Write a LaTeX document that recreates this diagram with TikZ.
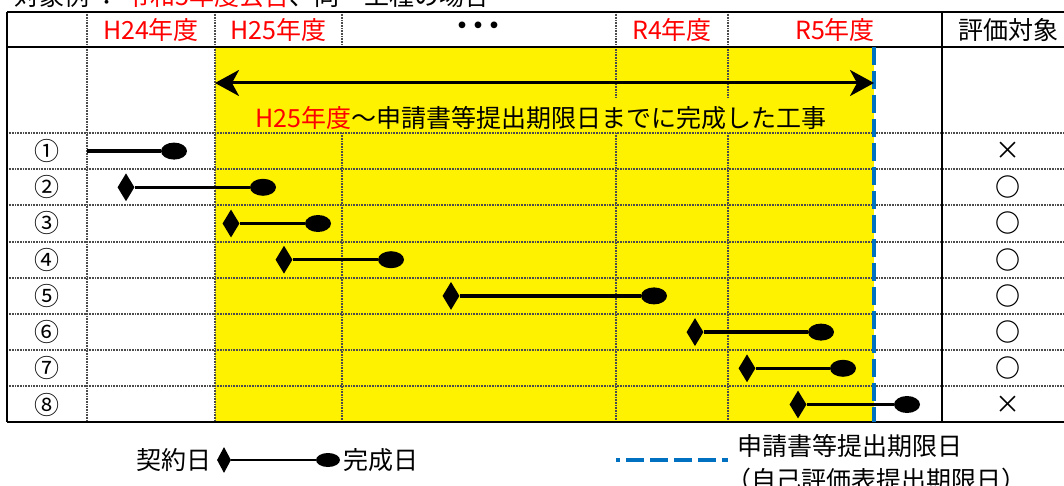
\documentclass[tikz,border=0pt]{standalone}
\usepackage{fontspec}
\setmainfont{Noto Sans CJK JP}
\usetikzlibrary{arrows.meta, shapes.geometric, positioning}
\definecolor{deadline}{RGB}{0,112,192}

\begin{document}
\begin{tikzpicture}[x=1pt, y=-1pt, font=\fontsize{25}{30}\selectfont,
    grid/.style={draw=black!70, line width=2pt, dash pattern=on 1pt off 0.6pt},
    frame/.style={draw=black, line width=2.8pt},
    limit/.style={draw=deadline, line width=3.2pt, dash pattern=on 18pt off 6pt},
    keiyaku/.style={diamond, fill=black, inner sep=0pt, minimum width=17pt, minimum height=28pt},
    kansei/.style={ellipse, fill=black, inner sep=0pt, minimum width=26pt, minimum height=17pt},
    bar/.style={line width=3.5pt},
    nendo/.style={text=red}]
  \clip (0,0) rectangle (1064,486);

  % title, cut off at the top
  \node[anchor=base west, inner sep=0pt] (title) at (14,6)
    {対象例 ： \textcolor{red}{令和5年度公告}、同一工種の場合};

  % yellow period up to the deadline
  \fill[yellow] (215,47) rectangle (874,422);

  % dotted cell borders
  \foreach \y in {133,169.2,205.4,241.6,277.8,314,350.2,386.4}
    \draw[grid] (7,\y) -- (1070,\y);
  \draw[grid] (87,12) -- (87,422);
  \draw[grid] (215,12) -- (215,422);
  \draw[grid] (342,12) -- (342,47) (342,133) -- (342,422);
  \foreach \x in {616,728}
    \draw[grid] (\x,12) -- (\x,98) (\x,133) -- (\x,422);

  % solid frame
  \draw[frame] (7,12) -- (1070,12);
  \draw[frame] (7,47) -- (1070,47);
  \draw[frame] (7,422) -- (1070,422);
  \draw[frame] (7,12) -- (7,422);
  \draw[black, line width=2.2pt] (942,12) -- (942,422);

  % deadline
  \coordinate (lim top) at (874,47);
  \coordinate (lim bot) at (874,422);
  \draw[limit] (lim top) -- (lim bot);

  % header
  \node[nendo] (h24) at (151,30) {H24年度};
  \node[nendo] (h25) at (278.5,30) {H25年度};
  \node[font=\fontsize{32}{32}\selectfont\bfseries] (dots) at (478,30) {･･･};
  \node[nendo] (r4) at (672,30) {R4年度};
  \node[nendo] (r5) at (835,30) {R5年度};
  \node (eval) at (1008,30) {評価対象};

  % period arrow
  \coordinate (from) at (215,83);
  \coordinate (upto) at (874,83);
  \draw[line width=3pt, {Stealth[length=24pt, width=26pt, inset=7pt]}-{Stealth[length=24pt, width=26pt, inset=7pt]}]
    (from) -- (upto);
  \node (period) at (541,118) {\textcolor{red}{H25年度}～申請書等提出期限日までに完成した工事};

  % rows
  \foreach \r/\lbl/\ev in {1/①/{\mdseries ×},2/②/○,3/③/○,4/④/○,5/⑤/○,6/⑥/○,7/⑦/○,8/⑧/{\mdseries ×}}{
    \pgfmathsetmacro\y{133+36.2*(\r-1)+18.1}
    \node (n\r) at (47,\y) {\lbl};
    \node[font=\fontsize{25}{30}\selectfont\bfseries] (e\r) at (1008,\y) {\ev};
  }

  % works
  \coordinate (k1) at (87,151.1);
  \node[kansei] (c1) at (174,151.1) {};
  \draw[bar] (k1) -- (c1);
  \foreach \r/\kx/\cx in {2/126/263,3/231/318,4/284/391,5/451/654,6/695/821,7/747/843,8/798/907}{
    \pgfmathsetmacro\y{133+36.2*(\r-1)+18.1}
    \node[keiyaku] (k\r) at (\kx,\y) {};
    \node[kansei] (c\r) at (\cx,\y) {};
    \draw[bar] (k\r) -- (c\r);
  }

  % legend
  \node[keiyaku, minimum width=14pt, minimum height=26pt] (lk) at (224,460) {};
  \node[kansei, minimum width=24pt, minimum height=14pt] (lc) at (328,460) {};
  \draw[line width=2.4pt] (lk) -- (lc);
  \node[left=2pt of lk] (lklbl) {契約日};
  \node[right=0pt of lc] (lclbl) {完成日};
  \coordinate (la) at (616,460);
  \coordinate (lb) at (728,460);
  \draw[limit, dash phase=14pt] (la) -- (lb);
  \node[anchor=west, inner sep=0pt] (limlbl) at (737,446) {申請書等提出期限日};
  \node[anchor=west, inner sep=0pt] (selflbl) at (726,480) {（自己評価表提出期限日）};
\end{tikzpicture}
\end{document}
